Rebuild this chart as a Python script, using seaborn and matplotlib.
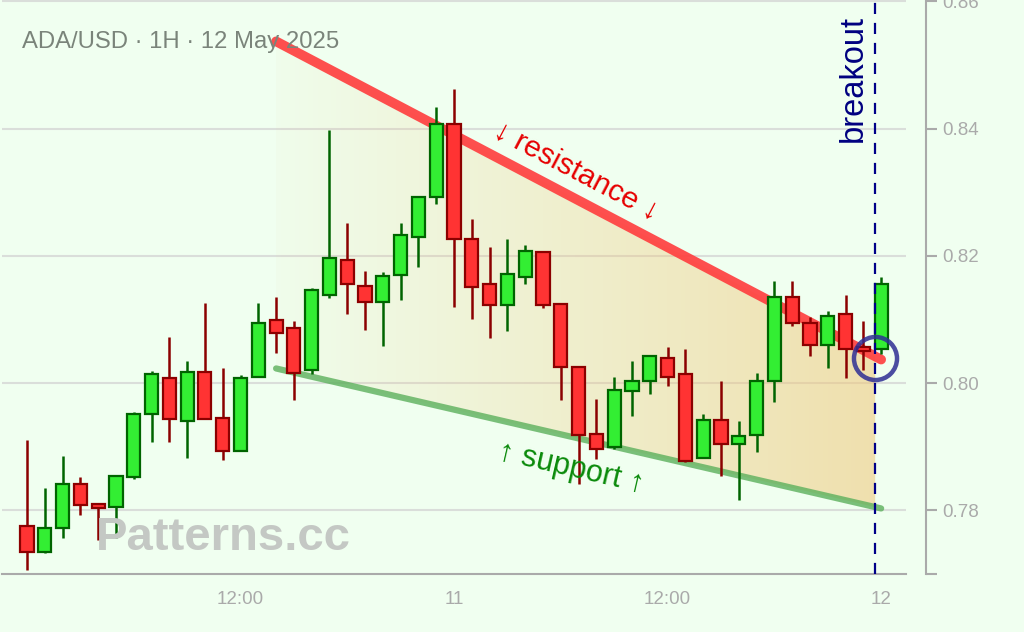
import numpy as np
import pandas as pd
import matplotlib
matplotlib.use("Agg")
import matplotlib.pyplot as plt
import matplotlib.dates as mdates
from matplotlib.patches import Polygon
import seaborn as sns

# ---------------- data ----------------
times = pd.date_range("2025-05-10 00:00", periods=49, freq="h")
opens = [0.7775, 0.7734, 0.7772, 0.7841, 0.7810, 0.7806, 0.7853, 0.7951, 0.8008, 0.7941,
         0.8017, 0.7945, 0.7894, 0.8010, 0.8099, 0.8086, 0.8020, 0.8139, 0.8193, 0.8152,
         0.8127, 0.8170, 0.8230, 0.8293, 0.8407, 0.8227, 0.8155, 0.8123, 0.8167, 0.8206,
         0.8124, 0.8026, 0.7920, 0.7900, 0.7988, 0.8004, 0.8040, 0.8014, 0.7882, 0.7942,
         0.7904, 0.7919, 0.8004, 0.8136, 0.8095, 0.8060, 0.8109, 0.8057, 0.8054]
closes = [0.7734, 0.7772, 0.7841, 0.7809, 0.7803, 0.7854, 0.7952, 0.8014, 0.7944, 0.8017,
          0.7944, 0.7894, 0.8008, 0.8095, 0.8079, 0.8016, 0.8146, 0.8196, 0.8155, 0.8127,
          0.8168, 0.8233, 0.8293, 0.8407, 0.8226, 0.8151, 0.8123, 0.8171, 0.8208, 0.8123,
          0.8026, 0.7919, 0.7897, 0.7989, 0.8004, 0.8042, 0.8010, 0.7878, 0.7942, 0.7904,
          0.7917, 0.8004, 0.8136, 0.8094, 0.8060, 0.8105, 0.8054, 0.8051, 0.8156]
highs = [0.7910, 0.7835, 0.7885, 0.7853, 0.7811, 0.7855, 0.7954, 0.8019, 0.8072, 0.8035,
         0.8126, 0.8023, 0.8012, 0.8126, 0.8135, 0.8098, 0.8150, 0.8398, 0.8251, 0.8176,
         0.8175, 0.8251, 0.8294, 0.8434, 0.8462, 0.8258, 0.8214, 0.8226, 0.8217, 0.8208,
         0.8124, 0.8026, 0.7975, 0.8010, 0.8035, 0.8042, 0.8057, 0.8054, 0.7951, 0.8004,
         0.7941, 0.8016, 0.8161, 0.8161, 0.8104, 0.8114, 0.8139, 0.8098, 0.8167]
lows = [0.7706, 0.7733, 0.7757, 0.7792, 0.7753, 0.7757, 0.7849, 0.7908, 0.7908, 0.7883,
        0.7943, 0.7879, 0.7894, 0.8010, 0.8048, 0.7974, 0.8014, 0.8134, 0.8109, 0.8084,
        0.8059, 0.8131, 0.8183, 0.8281, 0.8120, 0.8100, 0.8071, 0.8082, 0.8156, 0.8118,
        0.7973, 0.7842, 0.7880, 0.7896, 0.7949, 0.7983, 0.7995, 0.7876, 0.7882, 0.7854,
        0.7816, 0.7891, 0.7970, 0.8089, 0.8042, 0.8023, 0.8008, 0.8020, 0.8046]

res_times = pd.to_datetime(["2025-05-10 14:00", "2025-05-12 00:00"])
res_prices = [0.8537, 0.8037]
sup_times = pd.to_datetime(["2025-05-10 14:00", "2025-05-12 00:00"])
sup_prices = [0.8023, 0.7803]
breakout_time = pd.Timestamp("2025-05-11 23:40")
breakout_price = 0.8040

xtick_times = pd.to_datetime(["2025-05-10 12:00", "2025-05-11 00:00",
                              "2025-05-11 12:00", "2025-05-12 00:00"])
xtick_labels = ["12:00", "11", "12:00", "12"]
ytick_values = [0.78, 0.80, 0.82, 0.84, 0.86]
ytick_labels = ["0.78", "0.80", "0.82", "0.84", "0.86"]
title_text = "ADA/USD · 1H · 12 May 2025"

# ---------------- style ----------------
sns.set_style("white")
plt.rcParams["font.family"] = ["Liberation Sans", "DejaVu Sans"]

BG = "#f0fff0"
GRID = "#dadeda"
AXC = "#aaaaaa"
UP_FILL, UP_EDGE = "#33ee33", "#006400"
DN_FILL, DN_EDGE = "#ff3333", "#8b0000"

fig = plt.figure(figsize=(10.24, 6.32), dpi=100, facecolor=BG)
ax = fig.add_axes([0.002, 58 / 632, 904 / 1024, 574 / 632])
ax.set_facecolor(BG)

x = mdates.date2num(times)
hour = 1 / 24
xmin, xmax = x[0] - 1.4 * hour, x[-1] + 1.4 * hour
ymin, ymax = 0.77, 0.8602
ax.set_xlim(xmin, xmax)
ax.set_ylim(ymin, ymax)

# grid
for yv in ytick_values:
    ax.axhline(yv, color=GRID, lw=1.5, zorder=0)

# wedge gradient fill
xr = mdates.date2num(res_times)
xs = mdates.date2num(sup_times)
xb = mdates.date2num(breakout_time)
x0 = xr[0]
r0, rb = np.interp([x0, xb], xr, res_prices)
s0, sb = np.interp([x0, xb], xs, sup_prices)
poly = Polygon([(x0, r0), (xb, rb), (xb, sb), (x0, s0)], closed=True,
               facecolor="none", edgecolor="none")
ax.add_patch(poly)
grad = np.zeros((2, 256, 4))
grad[..., 0] = 0.94
grad[..., 1] = 0.78
grad[..., 2] = 0.47
grad[..., 3] = np.linspace(0.04, 0.55, 256)[None, :]
im = ax.imshow(grad, extent=[x0, xb, ymin, ymax], origin="lower",
               aspect="auto", interpolation="bilinear", zorder=1)
im.set_clip_path(poly)

# trend lines
sns.lineplot(x=mdates.date2num(res_times), y=res_prices, ax=ax, color="#ff4040",
             lw=7, alpha=0.92, zorder=2, solid_capstyle="round")
sns.lineplot(x=mdates.date2num(sup_times), y=sup_prices, ax=ax, color="#5cb05c",
             lw=4.5, alpha=0.8, zorder=2, solid_capstyle="round")

# candles
o = np.array(opens); c = np.array(closes)
h = np.array(highs); l = np.array(lows)
up = c >= o
wick_col = np.where(up, UP_EDGE, DN_EDGE)
ax.vlines(x, l, h, colors=wick_col, lw=1.8, zorder=3)
ax.bar(x[up], (c - o)[up], bottom=o[up], width=0.74 * hour, color=UP_FILL,
       edgecolor=UP_EDGE, linewidth=1.6, zorder=4)
ax.bar(x[~up], (o - c)[~up], bottom=c[~up], width=0.74 * hour, color=DN_FILL,
       edgecolor=DN_EDGE, linewidth=1.6, zorder=4)

# breakout
ax.axvline(xb, color="#000088", lw=1.6, ls=(0, (5, 4)), zorder=5)
ax.plot([xb], [breakout_price], marker="o", ms=31, mfc="none", mec="#2e2e94",
        mew=3.2, alpha=0.85, zorder=6)

# texts
ax.text(20 / 904, 1 - 42 / 574, title_text, transform=ax.transAxes,
        fontsize=17.2, color="#7a847a", ha="left", va="center", zorder=7)
ax.text(94 / 904, 1 - 550 / 574, "Patterns.cc", transform=ax.transAxes,
        fontsize=34, fontweight="bold", color="#c4c8c4", ha="left",
        va="baseline", zorder=7)
t_res = x[0] + 30.85 * hour
ax.text(t_res, 0.8332, "↓ resistance ↓", fontsize=21.5, color="#e60000",
        rotation=-27.7, rotation_mode="anchor", ha="center", va="center", zorder=7)
t_sup = x[0] + 30.6 * hour
ax.text(t_sup, 0.7866, "↑ support ↑", fontsize=22, color="#0a8a0a",
        rotation=-13.0, rotation_mode="anchor", ha="center", va="center", zorder=7)
ax.text(x[0] + 46.44 * hour, 0.8478, "breakout", fontsize=23.5, color="#000080",
        rotation=90, ha="center", va="center", zorder=7)

# axes styling
for s in ["left", "top"]:
    ax.spines[s].set_visible(False)
ax.spines["bottom"].set_color(AXC)
ax.spines["bottom"].set_linewidth(1.5)
ax.spines["right"].set_color(AXC)
ax.spines["right"].set_linewidth(1.5)
ax.spines["right"].set_position(("outward", 14.4))

xt = [xmin] + list(mdates.date2num(xtick_times)) + [xmax]
ax.set_xticks(xt)
ax.set_xticklabels([""] + xtick_labels + [""])
ax.set_yticks([ymin] + ytick_values)
ax.set_yticklabels([""] + ytick_labels)
ax.yaxis.tick_right()
ax.tick_params(axis="both", colors=AXC, labelcolor=AXC, labelsize=13.5,
               length=8, width=1.5, direction="out")
ax.tick_params(axis="x", pad=4)
ax.tick_params(axis="y", pad=4)
ax.set_xlabel("")
ax.set_ylabel("")
ax.grid(False)

fig.savefig("out.png", dpi=100, facecolor=BG)
